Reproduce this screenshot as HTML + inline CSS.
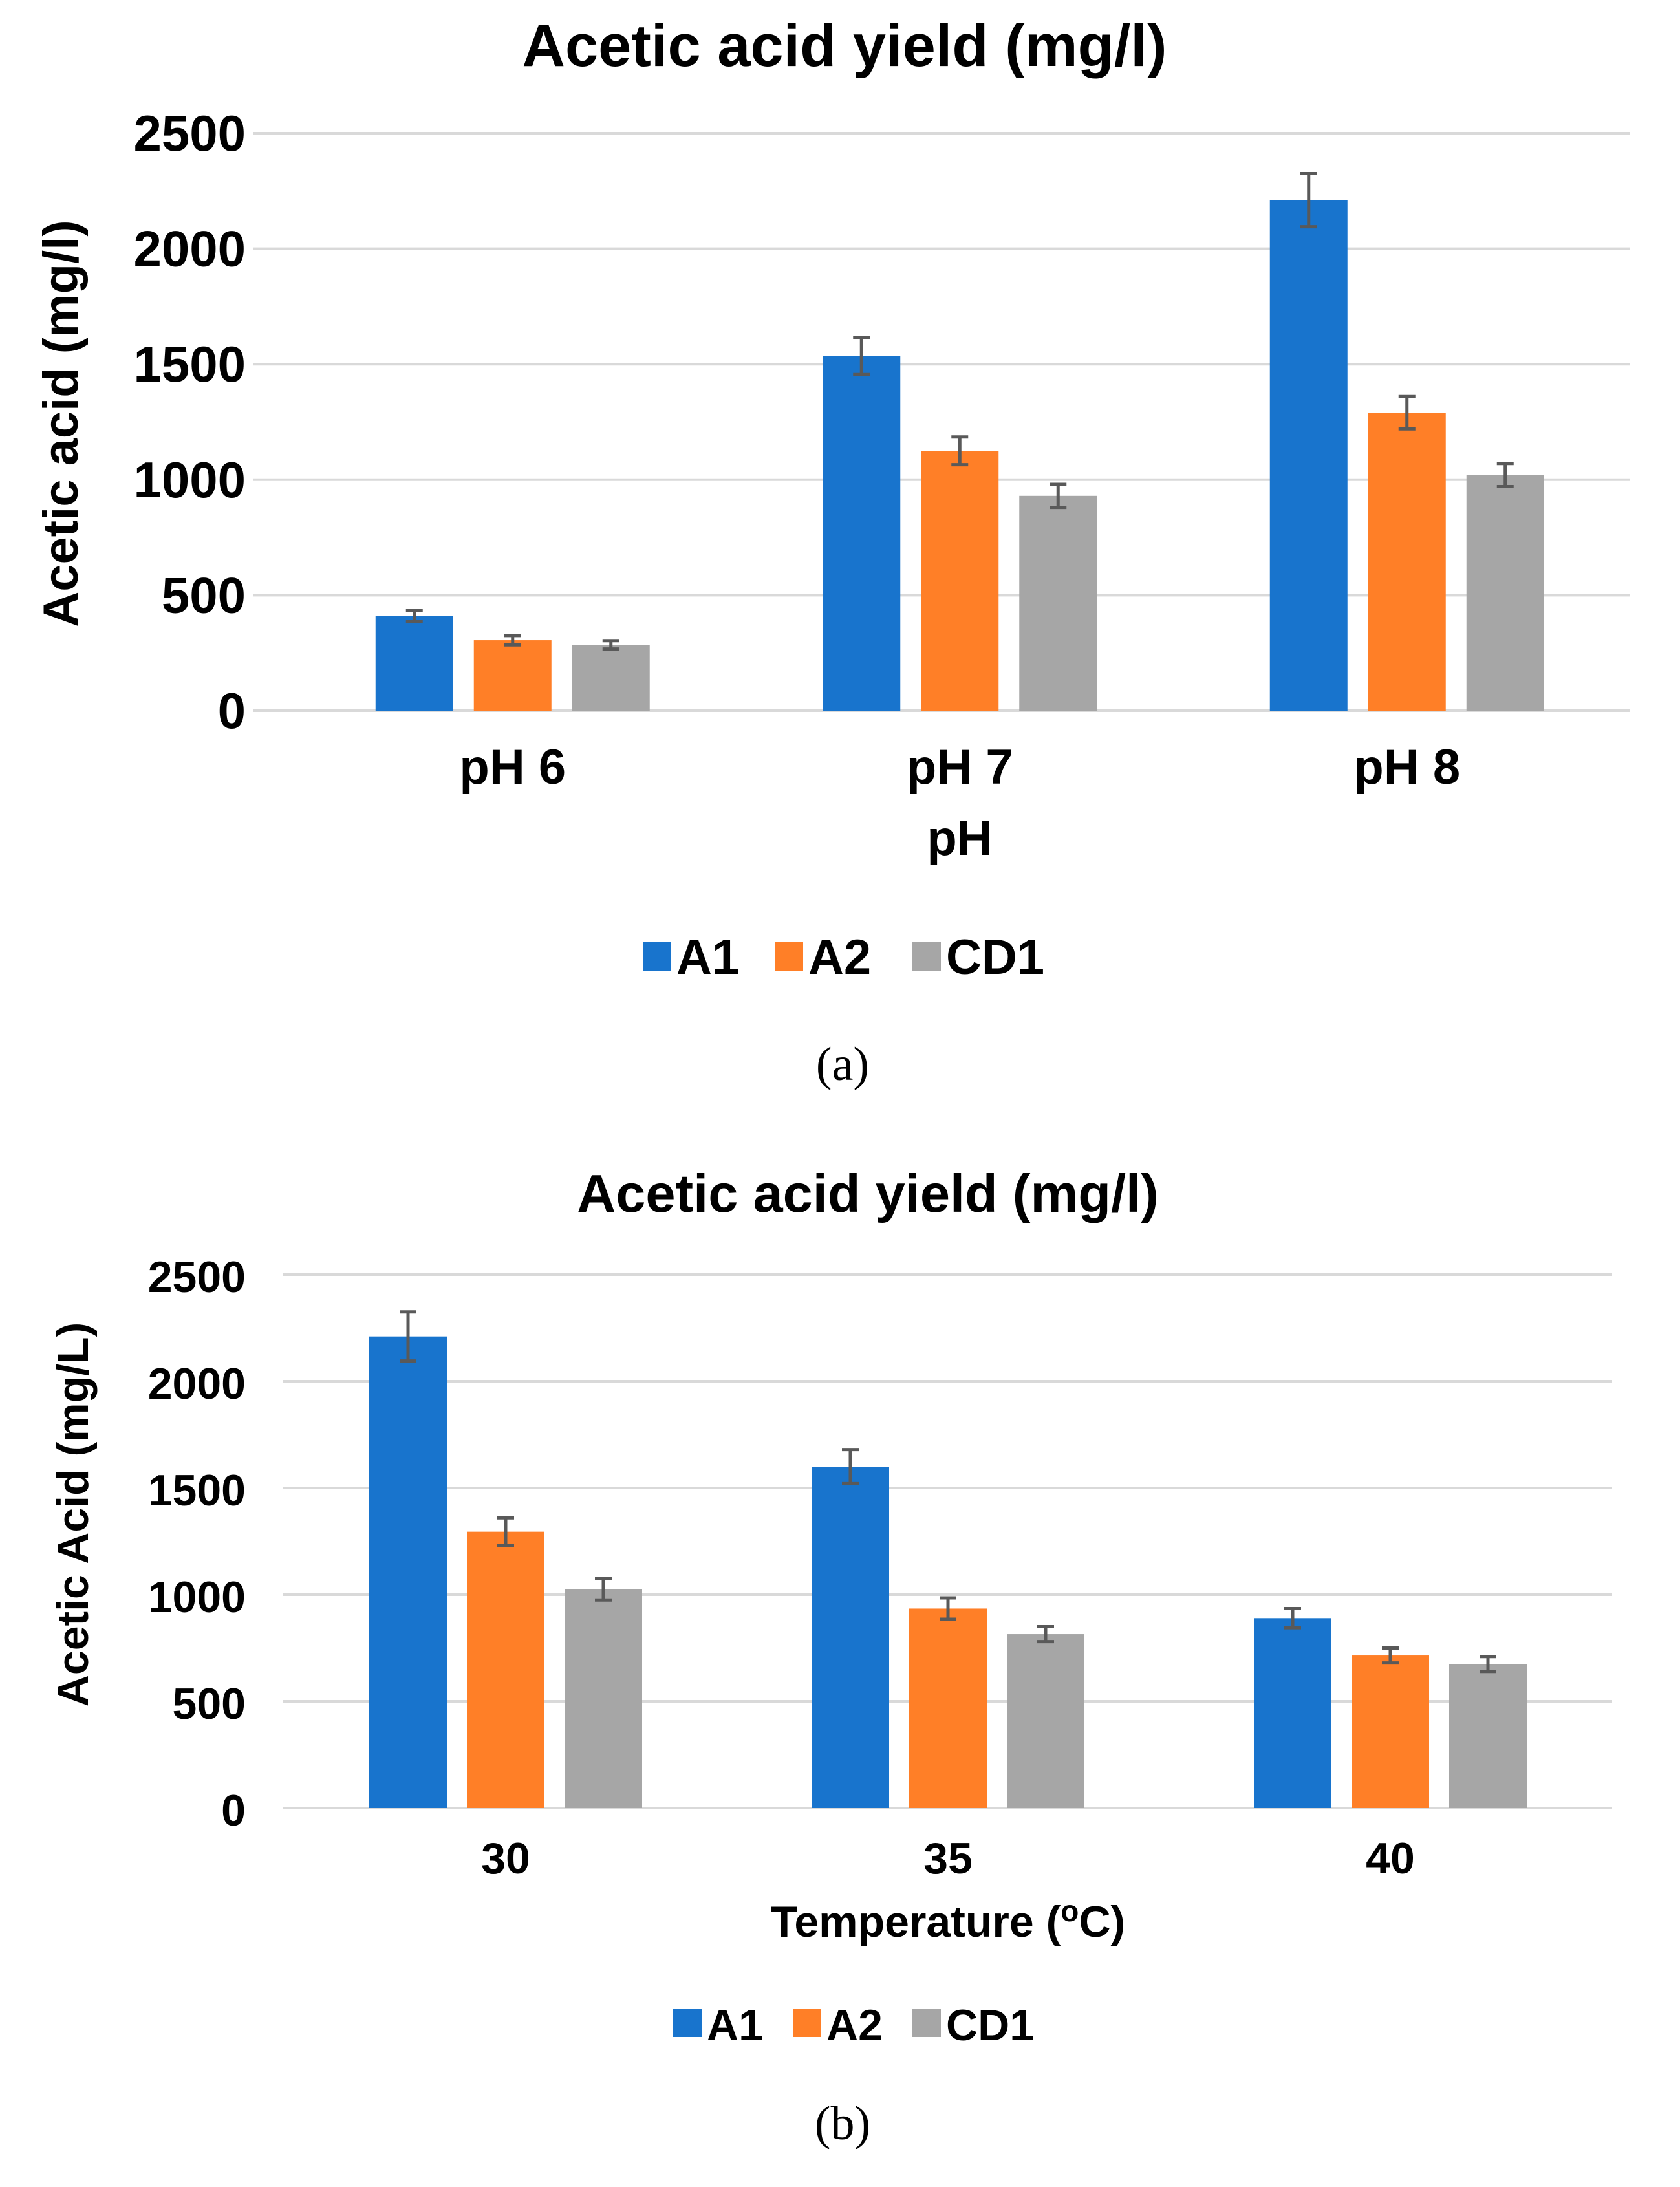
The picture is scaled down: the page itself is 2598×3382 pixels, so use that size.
<!DOCTYPE html>
<html><head><meta charset="utf-8">
<style>
html,body{margin:0;padding:0;background:#fff;}
svg{display:block;}
text{font-family:"Liberation Sans",Arial,sans-serif;font-weight:bold;fill:#000;}
.cap{font-family:"Liberation Serif",serif;font-weight:normal;}
</style></head>
<body>
<svg id="fig" width="2598" height="3382" viewBox="0 0 2598 3382" xmlns="http://www.w3.org/2000/svg">
<rect width="2598" height="3382" fill="#fff"/>
<g id="chartA"></g>
<g id="chartB"></g>
</svg>
<script>
const seriesNames = ["A1","A2","CD1"];
const seriesColors = ["#1874CD","#FF7F27","#A6A6A6"];
const yTicks = [0,500,1000,1500,2000,2500];

const catsA = ["pH 6","pH 7","pH 8"];
const a_A1 = [410,1535,2210];
const a_A2 = [305,1125,1290];
const a_CD1 = [285,930,1020];
const errA_A1 = [25,80,115];
const errA_A2 = [20,60,70];
const errA_CD1 = [18,50,50];

const catsB = ["30","35","40"];
const b_A1 = [2210,1600,890];
const b_A2 = [1295,935,715];
const b_CD1 = [1025,815,675];
const errB_A1 = [115,80,45];
const errB_A2 = [65,50,35];
const errB_CD1 = [50,35,35];

const NS="http://www.w3.org/2000/svg";
function mk(parent,tag,attrs,txt){const e=document.createElementNS(NS,tag);for(const k in attrs)e.setAttribute(k,attrs[k]);if(txt!==undefined)e.textContent=txt;parent.appendChild(e);return e;}

function drawChart(g,cfg){
  const y=v=>cfg.y0-(v/2500)*(cfg.y0-cfg.y2500);
  const xc=(i,s)=>cfg.bandLeft+cfg.band*(i+0.5)+(s-1)*cfg.off;
  let t=mk(g,'text',{x:cfg.titleX,y:cfg.titleY,'text-anchor':'middle','font-size':cfg.titleSize});t.textContent=cfg.title;
  
  
  yTicks.forEach(v=>{
    const l=mk(g,'line',{x1:cfg.gx1,x2:cfg.gx2,y1:y(v),y2:y(v),stroke:'#D9D9D9','stroke-width':4});
    
    
    const tl=mk(g,'text',{x:380,y:y(v)+27,'text-anchor':'end','font-size':cfg.tickSize},String(v));
    
    
  });
  const yt=mk(g,'text',{transform:`translate(${cfg.ytX},${cfg.ytY}) rotate(-90)`,'text-anchor':'middle','font-size':cfg.ytSize},cfg.yTitle);
  
  
  cfg.series.forEach((vals,s)=>{
    vals.forEach((v,i)=>{
      const cx=xc(i,s);
      const r=mk(g,'rect',{x:cx-60,y:y(v),width:120,height:y(0)-y(v),fill:seriesColors[s]});
      
      
      const e=cfg.errs[s][i];
      const eb=mk(g,'path',{d:`M${cx},${y(v+e)}V${y(v-e)}M${cx-13},${y(v+e)}H${cx+13}M${cx-13},${y(v-e)}H${cx+13}`,stroke:'#595959','stroke-width':5,fill:'none'});
      
      
    });
  });
  cfg.cats.forEach((c,i)=>{
    const cl=mk(g,'text',{x:xc(i,1),y:cfg.catY,'text-anchor':'middle','font-size':cfg.catSize},c);
    
    
  });
  const xt=mk(g,'text',{x:cfg.xtX,y:cfg.xtY,'text-anchor':'middle','font-size':cfg.xtSize});
  xt.innerHTML=cfg.xTitle;
  
  
  seriesNames.forEach((n,s)=>{
    const lg=mk(g,'g',{});
    
    
    mk(lg,'rect',{x:cfg.legX[s],y:cfg.legY-22,width:44,height:44,fill:seriesColors[s]});
    mk(lg,'text',{x:cfg.legX[s]+52,y:cfg.legY+27,'font-size':cfg.legSize},n);
  });
  const cap=mk(g,'text',{x:1303,y:cfg.capY,'text-anchor':'middle','font-size':74,class:'cap'},cfg.cap);
  
  
}

drawChart(document.getElementById('chartA'),{
  title:'Acetic acid yield (mg/l)',titleX:1306,titleY:102,titleSize:92,
  y0:1099,y2500:206,gx1:391,gx2:2520,bandLeft:447,band:691.5,off:152,tickSize:78,
  yTitle:'Acetic acid (mg/l)',ytX:120,ytY:655,ytSize:76,
  series:[a_A1,a_A2,a_CD1],errs:[errA_A1,errA_A2,errA_CD1],cats:catsA,
  catY:1212,catSize:76,xTitle:'pH',xtX:1484,xtY:1322,xtSize:76,
  legX:[994,1198,1411],legY:1479,legSize:76,cap:'(a)',capY:1670
});
drawChart(document.getElementById('chartB'),{
  title:'Acetic acid yield (mg/l)',titleX:1342,titleY:1874,titleSize:83,
  y0:2796,y2500:1971,gx1:438,gx2:2493,bandLeft:440,band:684,off:151,tickSize:68,
  yTitle:'Acetic Acid (mg/L)',ytX:136,ytY:2342,ytSize:68,
  series:[b_A1,b_A2,b_CD1],errs:[errB_A1,errB_A2,errB_CD1],cats:catsB,
  catY:2897,catSize:68,xTitle:'Temperature (<tspan font-size="46" dy="-24">o</tspan><tspan dy="24">C)</tspan>',xtX:1466,xtY:2995,xtSize:68,
  legX:[1041,1226,1411],legY:3128,legSize:68,cap:'(b)',capY:3308
});
</script>
</body></html>
